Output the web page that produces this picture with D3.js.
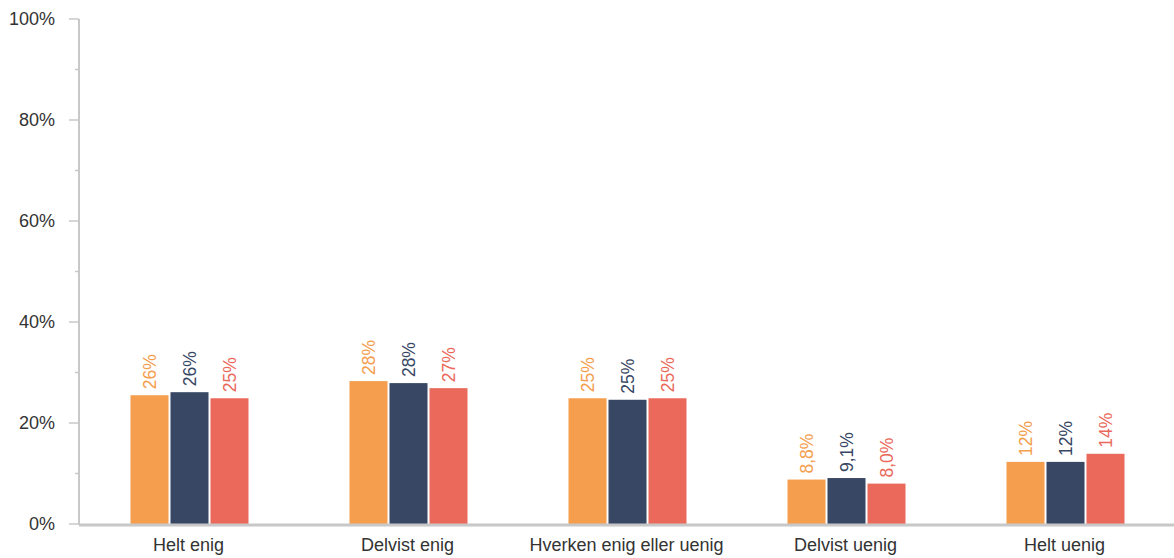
<!DOCTYPE html>
<html><head><meta charset="utf-8">
<script src="https://cdn.jsdelivr.net/npm/d3@7"></script>
<style>body{margin:0;background:#fff;font-family:"Liberation Sans",Arial,sans-serif;}</style>
</head><body><svg id="c" width="1174" height="558"></svg>
<script>
const categories = ["Helt enig","Delvist enig","Hverken enig eller uenig","Delvist uenig","Helt uenig"];
const series1 = [25.5, 28.3, 24.9, 8.8, 12.3];
const series2 = [26.1, 27.9, 24.6, 9.1, 12.3];
const series3 = [24.9, 26.9, 24.9, 8.0, 13.9];
const labels1 = ["26%","28%","25%","8,8%","12%"];
const labels2 = ["26%","28%","25%","9,1%","12%"];
const labels3 = ["25%","27%","25%","8,0%","14%"];
const yTicks = [0,20,40,60,80,100];
const yMinor = [10,30,50,70,90];
const colors = ["#F49E4E","#374764","#EA695B"];

const series = [series1, series2, series3];
const labels = [labels1, labels2, labels3];
const svg = d3.select("#c");
const L = 79, R = 1174, T = 19, B = 524;
const x = d3.scaleBand().domain(categories).range([L, R]);
const y = d3.scaleLinear().domain([0,100]).range([B, T]);
const inner = d3.scaleBand().domain([0,1,2]).range([0, 118]).paddingInner(0.05);

const axisColor = "#c8c8c8";
svg.append("line").attr("x1",L).attr("x2",L).attr("y1",T).attr("y2",B+1).attr("stroke",axisColor).attr("stroke-width",2);
yTicks.forEach(t=>{
  svg.append("line").attr("x1",L-10).attr("x2",L).attr("y1",y(t)).attr("y2",y(t)).attr("stroke",axisColor).attr("stroke-width",1.5);
  svg.append("text").attr("x",55).attr("y",y(t)).attr("dy","0.35em").attr("text-anchor","end")
    .attr("font-size",18).attr("fill","#333").text(t+"%");
});
yMinor.forEach(t=>{
  svg.append("line").attr("x1",L-4).attr("x2",L).attr("y1",y(t)).attr("y2",y(t)).attr("stroke",axisColor).attr("stroke-width",1.5);
});

categories.forEach((c,i)=>{
  const gx = x(c) + x.bandwidth()/2 - 58;
  series.forEach((s,k)=>{
    const bx = gx + inner(k);
    svg.append("rect").attr("x",bx).attr("y",y(s[i])).attr("width",inner.bandwidth()).attr("height",B-y(s[i])).attr("fill",colors[k]);
    svg.append("text").attr("transform",`translate(${bx+inner.bandwidth()/2},${y(s[i])-6}) rotate(-90)`)
      .attr("dy","0.35em").attr("font-size",17.5).attr("fill",colors[k]).text(labels[k][i]);
  });
  svg.append("text").attr("x",x(c)+x.bandwidth()/2).attr("y",551).attr("text-anchor","middle")
    .attr("font-size",18).attr("fill","#333").text(c);
});
svg.append("line").attr("x1",L).attr("x2",R).attr("y1",B+1).attr("y2",B+1).attr("stroke",axisColor).attr("stroke-width",3);
</script></body></html>
